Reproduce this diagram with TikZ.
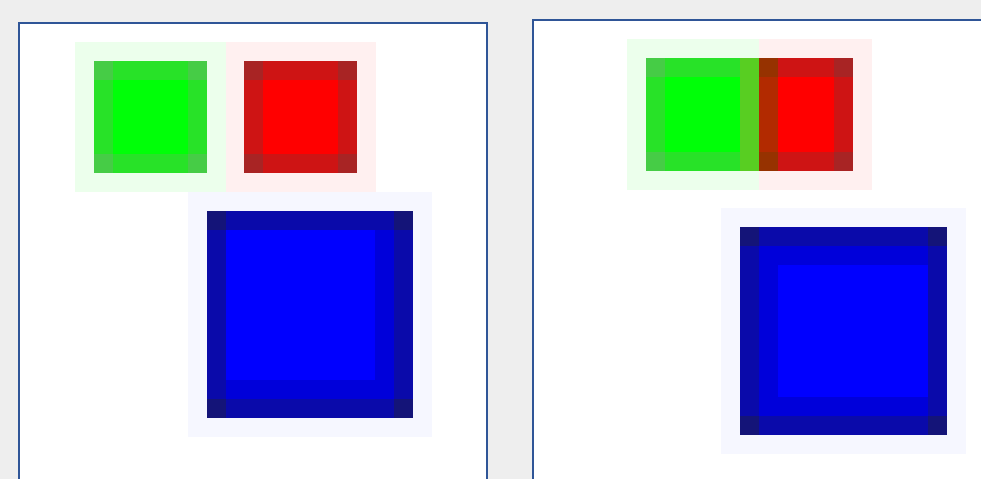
\documentclass[tikz,border=0pt]{standalone}
\usepackage{tikz}
\definecolor{PageGray}{RGB}{238,238,238}
\definecolor{FrameBlue}{RGB}{47,85,151}
\definecolor{GreenHalo}{RGB}{236,255,236}
\definecolor{GreenEdge}{RGB}{40,226,40}
\definecolor{GreenCore}{RGB}{0,255,8}
\definecolor{GreenCorner}{RGB}{70,204,70}
\definecolor{GreenMix}{RGB}{88,206,34}
\definecolor{RedHalo}{RGB}{255,240,240}
\definecolor{RedEdge}{RGB}{206,20,20}
\definecolor{RedCore}{RGB}{255,0,0}
\definecolor{RedCorner}{RGB}{168,36,36}
\definecolor{RedMix}{RGB}{178,42,0}
\definecolor{RedMixCorner}{RGB}{150,50,0}
\definecolor{BlueHalo}{RGB}{246,247,255}
\definecolor{BlueEdge}{RGB}{10,10,170}
\definecolor{BlueRing}{RGB}{0,0,218}
\definecolor{BlueCore}{RGB}{0,0,255}
\definecolor{BlueCorner}{RGB}{20,20,120}

\begin{document}
\begin{tikzpicture}[x=0.02cm,y=-0.02cm]
  \useasboundingbox (0,0) rectangle (981,479);
  \fill[PageGray] (0,0) rectangle (981,479);
  % the two panels
  \draw[FrameBlue,line width=1.1pt,fill=white] (19,23) rectangle (487,500);
  \draw[FrameBlue,line width=1.1pt,fill=white] (533,20) rectangle (1000,500);

  % left panel: green
  \fill[GreenHalo] (75,42) rectangle (226,192);
  \fill[GreenEdge] (94,61) rectangle (207,173);
  \fill[GreenCore] (113,80) rectangle (188,154);
  \fill[GreenCorner] (94,61) rectangle (113,80);
  \fill[GreenCorner] (188,61) rectangle (207,80);
  \fill[GreenCorner] (94,154) rectangle (113,173);
  \fill[GreenCorner] (188,154) rectangle (207,173);
  % left panel: red
  \fill[RedHalo] (226,42) rectangle (376,192);
  \fill[RedEdge] (244,61) rectangle (357,173);
  \fill[RedCore] (263,80) rectangle (338,154);
  \fill[RedCorner] (244,61) rectangle (263,80);
  \fill[RedCorner] (338,61) rectangle (357,80);
  \fill[RedCorner] (244,154) rectangle (263,173);
  \fill[RedCorner] (338,154) rectangle (357,173);
  % left panel: blue
  \fill[BlueHalo] (188,192) rectangle (432,437);
  \fill[BlueEdge] (207,211) rectangle (413,418);
  \fill[BlueRing] (226,230) rectangle (394,399);
  \fill[BlueCore] (226,230) rectangle (375,380);
  \fill[BlueCorner] (207,211) rectangle (226,230);
  \fill[BlueCorner] (394,211) rectangle (413,230);
  \fill[BlueCorner] (207,399) rectangle (226,418);
  \fill[BlueCorner] (394,399) rectangle (413,418);

  % right panel: green and red touching
  \fill[GreenHalo] (627,39) rectangle (759,190);
  \fill[RedHalo] (759,39) rectangle (872,190);
  \fill[GreenEdge] (646,58) rectangle (759,171);
  \fill[GreenCore] (665,77) rectangle (740,152);
  \fill[GreenMix] (740,58) rectangle (759,171);
  \fill[GreenCorner] (646,58) rectangle (665,77);
  \fill[GreenCorner] (646,152) rectangle (665,171);
  \fill[RedEdge] (759,58) rectangle (853,171);
  \fill[RedCore] (778,77) rectangle (834,152);
  \fill[RedMix] (759,58) rectangle (778,171);
  \fill[RedMixCorner] (759,58) rectangle (778,77);
  \fill[RedMixCorner] (759,152) rectangle (778,171);
  \fill[RedCorner] (834,58) rectangle (853,77);
  \fill[RedCorner] (834,152) rectangle (853,171);
  % right panel: blue
  \fill[BlueHalo] (721,208) rectangle (966,454);
  \fill[BlueEdge] (740,227) rectangle (947,435);
  \fill[BlueRing] (759,246) rectangle (928,416);
  \fill[BlueCore] (778,265) rectangle (928,397);
  \fill[BlueCorner] (740,227) rectangle (759,246);
  \fill[BlueCorner] (928,227) rectangle (947,246);
  \fill[BlueCorner] (740,416) rectangle (759,435);
  \fill[BlueCorner] (928,416) rectangle (947,435);
\end{tikzpicture}
\end{document}
